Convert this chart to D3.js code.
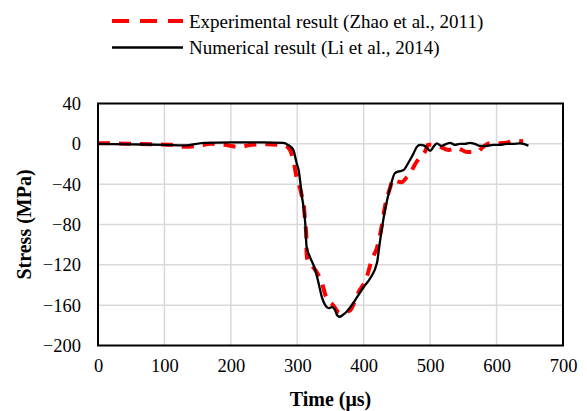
<!DOCTYPE html>
<html>
<head>
<meta charset="utf-8">
<script src="https://cdn.jsdelivr.net/npm/d3@7"></script>
<style>
  body { margin: 0; background: #fff; }
  svg text { font-family: "Liberation Serif", "DejaVu Serif", serif; fill: #000; }
</style>
</head>
<body>
<div id="wrapper"></div>
<script>
// experimental (Zhao et al., 2011)
let expTime = [0, 20, 50, 80, 110, 130, 150, 170, 190, 212, 232, 255, 270, 282, 289, 294, 299, 302, 307, 310, 312, 313.5, 314, 316, 322, 329, 337, 344, 354, 362, 368, 372, 380, 384, 394, 399, 404, 409, 412, 420, 427, 432, 440, 444, 450, 457, 465, 470, 475, 485, 492, 497, 505, 515, 528, 540, 555, 570, 580, 590, 605, 615, 625, 640];
let expStress = [0.5, 0.5, 0, -0.5, -1, -3, -2, 0, -1, -3, -1, -0.5, -1, -2, -6, -16, -33, -39, -52, -62, -79, -89, -109, -117, -121, -127, -138, -153, -160, -167, -168, -167, -165, -160, -145, -140, -133, -122, -115, -103, -82, -62, -43, -35, -37, -38, -33, -30, -23, -13, -8, -1, -1, -3, -6, -4, -8, -8, -3, 0.5, 0.5, 1, 3, 2.5];

// numerical (Li et al., 2014)
let numTime = [0, 50, 100, 130, 160, 200, 250, 279, 286, 294, 299, 302, 307, 312, 314, 319, 327, 332, 337, 342, 347, 352, 357, 360, 364, 368, 372, 382, 389, 400, 410, 420, 424, 432, 440, 447, 455, 460, 467, 475, 480, 485, 492, 500, 505, 510, 517, 523, 530, 537, 545, 552, 560, 567, 575, 585, 595, 605, 615, 625, 635, 641, 648];
let numStress = [0, -0.5, -1, -1.5, 1, 1.5, 1.5, 1, -1, -6, -19, -26, -52, -79, -102, -112, -125, -138, -152, -160, -163, -162, -165, -170, -171.5, -170, -168, -160, -153, -142, -133, -118, -99, -66, -43, -29, -27, -26, -19, -9.5, -3, -1, -2, -7, -3, 0.5, -2, -0.5, 1, -1, 0, 0, 1, 0, -2, -2, -1, -1, 0, 0, 0.5, 0, -2];

let xTicks = [0, 100, 200, 300, 400, 500, 600, 700];
let yTicks = [40, 0, -40, -80, -120, -160, -200];

let legendLabels = ["Experimental result (Zhao et al., 2011)", "Numerical result (Li et al., 2014)"];

let dimensions = {
  width: 587,
  height: 411,
  margin: { top: 103.5, right: 24, bottom: 65.5, left: 98 }
};
dimensions.boundedWidth = dimensions.width - dimensions.margin.left - dimensions.margin.right;
dimensions.boundedHeight = dimensions.height - dimensions.margin.top - dimensions.margin.bottom;

let wrapper = d3.select("#wrapper")
  .append("svg")
  .attr("width", dimensions.width)
  .attr("height", dimensions.height);

let bounds = wrapper.append("g")
  .attr("transform", `translate(${dimensions.margin.left}, ${dimensions.margin.top})`);

let xScale = d3.scaleLinear().domain([0, 700]).range([0, dimensions.boundedWidth]);
let yScale = d3.scaleLinear().domain([-200, 40]).range([dimensions.boundedHeight, 0]);

// gridlines
bounds.append("g")
  .selectAll("line")
  .data(xTicks.slice(1, -1))
  .join("line")
  .attr("x1", d => xScale(d)).attr("x2", d => xScale(d))
  .attr("y1", 0).attr("y2", dimensions.boundedHeight)
  .attr("stroke", "#d9d9d9").attr("stroke-width", 1.5);

bounds.append("g")
  .selectAll("line")
  .data(yTicks.slice(1, -1))
  .join("line")
  .attr("y1", d => yScale(d)).attr("y2", d => yScale(d))
  .attr("x1", 0).attr("x2", dimensions.boundedWidth)
  .attr("stroke", "#d9d9d9").attr("stroke-width", 1.5);

// axes (labels only)
let xAxis = bounds.append("g")
  .attr("transform", `translate(0, ${dimensions.boundedHeight})`)
  .call(d3.axisBottom(xScale).tickValues(xTicks).tickSize(0).tickPadding(13));
let yAxis = bounds.append("g")
  .call(d3.axisLeft(yScale).tickValues(yTicks).tickSize(0).tickPadding(17));
[xAxis, yAxis].forEach(a => {
  a.attr("font-family", null).attr("font-size", null);
  a.select(".domain").remove();
  a.selectAll("text")
    .style("font-family", "'Liberation Serif', serif")
    .style("font-size", "18.5px");
});

// curves
let line = d3.line()
  .x(d => xScale(d[0]))
  .y(d => yScale(d[1]))
  .curve(d3.curveMonotoneX);

bounds.append("path")
  .datum(expTime.map((t, i) => [t, expStress[i]]))
  .attr("d", line)
  .attr("fill", "none")
  .attr("stroke", "#ff0000")
  .attr("stroke-width", 4)
  .attr("stroke-dasharray", "12,9");

bounds.append("path")
  .datum(numTime.map((t, i) => [t, numStress[i]]))
  .attr("d", line)
  .attr("fill", "none")
  .attr("stroke", "#000")
  .attr("stroke-width", 2.3)
  .attr("stroke-linejoin", "round");

// frame
bounds.append("rect")
  .attr("width", dimensions.boundedWidth)
  .attr("height", dimensions.boundedHeight)
  .attr("fill", "none")
  .attr("stroke", "#000")
  .attr("stroke-width", 2);

// axis titles
wrapper.append("text")
  .attr("x", dimensions.margin.left + dimensions.boundedWidth / 2)
  .attr("y", 406)
  .attr("text-anchor", "middle")
  .attr("font-size", 20)
  .attr("font-weight", "bold")
  .text("Time (μs)");

wrapper.append("text")
  .attr("transform", `translate(31, ${dimensions.margin.top + dimensions.boundedHeight / 2}) rotate(-90)`)
  .attr("text-anchor", "middle")
  .attr("font-size", 20)
  .attr("font-weight", "bold")
  .text("Stress (MPa)");

// legend
let legend = wrapper.append("g");
let legendRows = legend.selectAll("g")
  .data(legendLabels)
  .join("g")
  .attr("transform", (d, i) => `translate(112, ${21 + i * 26.5})`);

legendRows.append("line")
  .attr("x1", 0).attr("x2", 71)
  .attr("stroke", (d, i) => i === 0 ? "#ff0000" : "#000")
  .attr("stroke-width", (d, i) => i === 0 ? 4 : 2.5)
  .attr("stroke-dasharray", (d, i) => i === 0 ? "17,11" : null);

legendRows.append("text")
  .attr("x", 77)
  .attr("y", 6.5)
  .attr("font-size", 19)
  .text(d => d);
</script>
</body>
</html>
